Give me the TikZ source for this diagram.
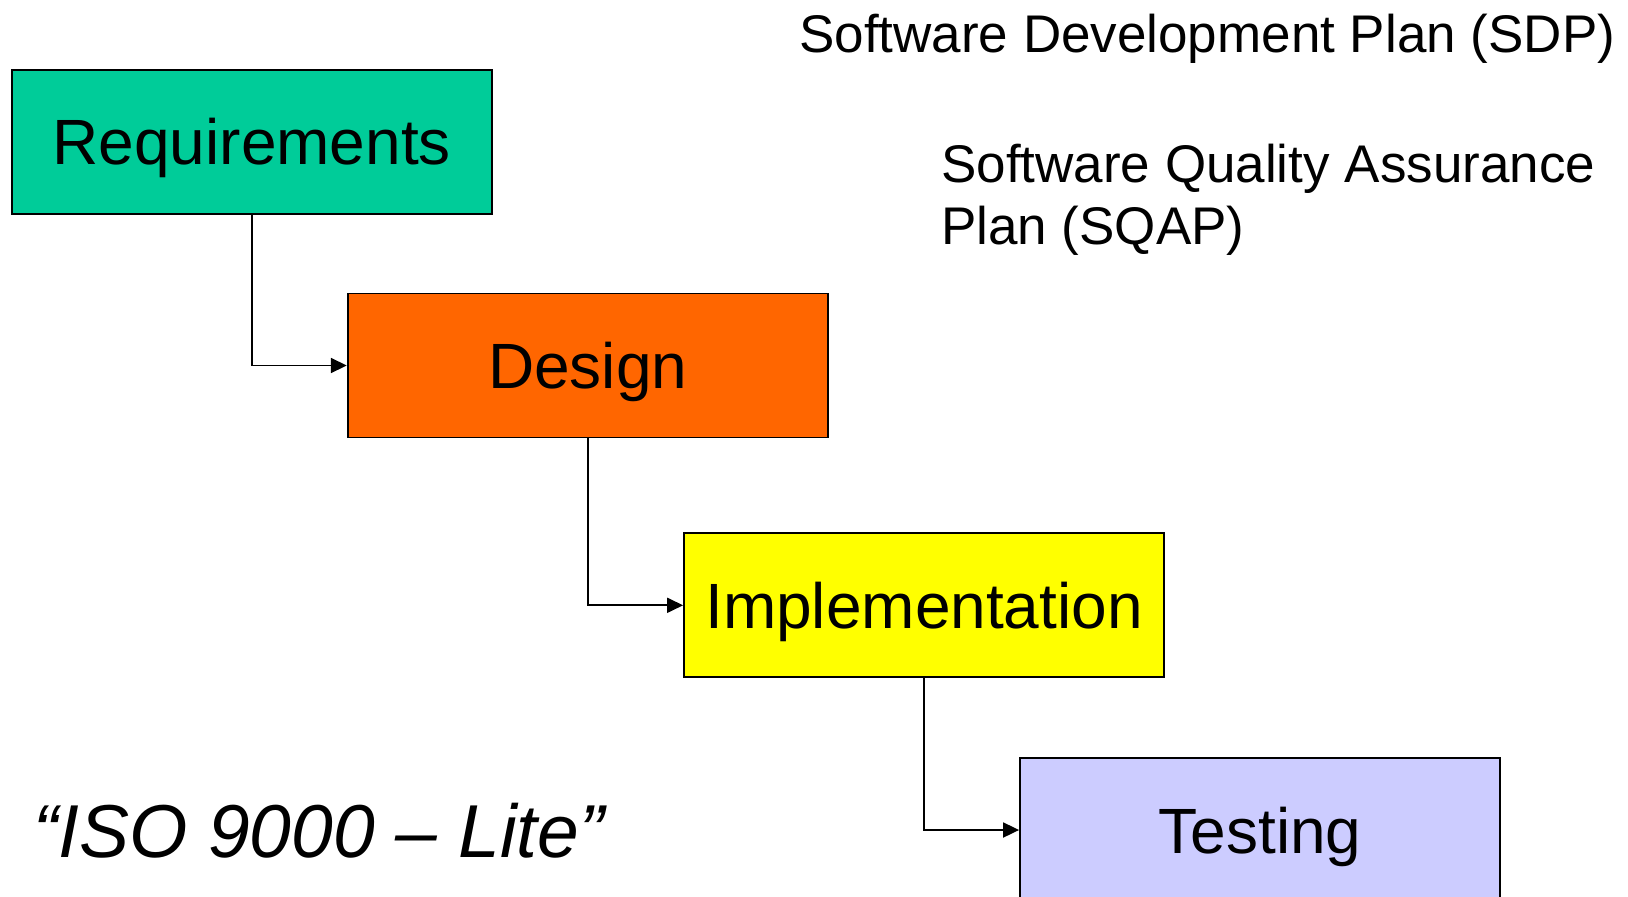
\documentclass[tikz,border=0pt]{standalone}
\usepackage{fontspec}
\setmainfont{Liberation Sans}
\usetikzlibrary{arrows.meta}

\definecolor{reqgreen}{RGB}{0,204,153}
\definecolor{desorange}{RGB}{255,102,0}
\definecolor{impyellow}{RGB}{255,255,0}
\definecolor{testblue}{RGB}{204,204,255}

\begin{document}
\begin{tikzpicture}[x=1pt, y=-1pt,
  b/.style={draw, line width=1.8pt, minimum width=480pt, minimum height=144pt, inner sep=0pt,
    text height=46pt, text depth=0pt, font=\fontsize{64}{72}\selectfont},
  t/.style={anchor=base west, inner sep=0pt, align=left, font=\fontsize{53}{62}\selectfont},
  a/.style={line width=1.8pt, -{Triangle[length=16pt, width=15pt]}}]
  \useasboundingbox (0,0) rectangle (1628,897);
  % phase boxes
  \node[b, fill=reqgreen]   (req)  at (251.8,141.7) {Requirements};
  \node[b, fill=desorange]  (des)  at (587.7,365.5) {Design};
  \node[b, fill=impyellow]  (imp)  at (924,605.3)   {Implementation};
  \node[b, fill=testblue]   (test) at (1260,830)    {Testing};
  % flow
  \draw[a] (req.south) |- (des.west);
  \draw[a] (des.south) |- (imp.west);
  \draw[a] (imp.south) |- (test.west);
  % plans
  \node[t] (sdp)  at (799,52)  {Software Development Plan (SDP)};
  \node[t] (sqap) at (941,244) {Software Quality Assurance\\Plan (SQAP)};
  % motto
  \node[anchor=base west, inner sep=0pt, font=\fontsize{75}{84}\selectfont\itshape] (iso)
    at (33,857) {“ISO 9000 – Lite”};
\end{tikzpicture}
\end{document}
